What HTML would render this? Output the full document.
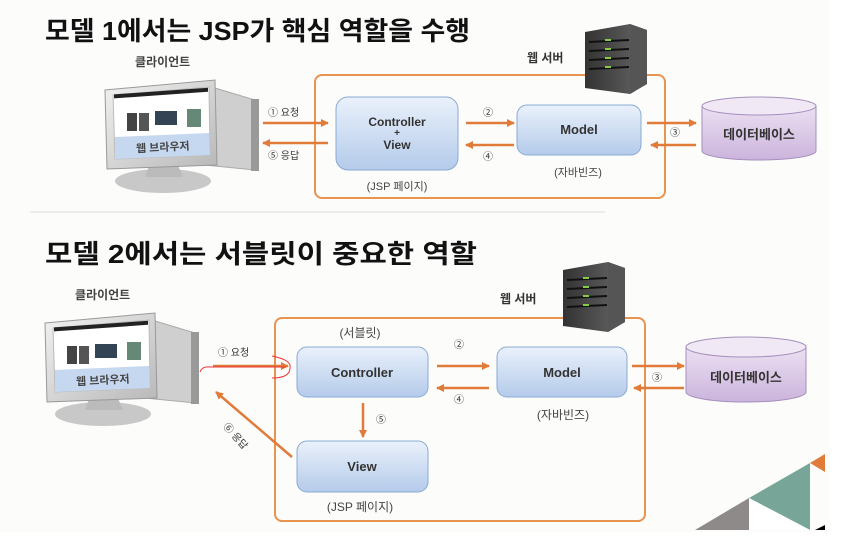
<!DOCTYPE html>
<html><head><meta charset="utf-8"><style>
body{margin:0;background:#fff}
svg{display:block}
text{font-family:"Liberation Sans","Noto Sans CJK KR",sans-serif}
</style></head><body>
<svg width="858" height="542" viewBox="0 0 858 542" xmlns="http://www.w3.org/2000/svg">
<defs>
<linearGradient id="bl" x1="0" y1="0" x2="0" y2="1"><stop offset="0" stop-color="#eaf1fb"/><stop offset="1" stop-color="#b4cbea"/></linearGradient>
<linearGradient id="pu" x1="0" y1="0" x2="0" y2="1"><stop offset="0" stop-color="#ece0f2"/><stop offset="1" stop-color="#cbb4dc"/></linearGradient>
<linearGradient id="sv" x1="0" y1="0" x2="1" y2="0"><stop offset="0" stop-color="#333"/><stop offset="1" stop-color="#666"/></linearGradient>
<linearGradient id="mon" x1="0" y1="0" x2="1" y2="1"><stop offset="0" stop-color="#f2f2f2"/><stop offset="1" stop-color="#b8b8b8"/></linearGradient>
<marker id="ah" markerWidth="8" markerHeight="8" refX="7" refY="4" orient="auto" markerUnits="userSpaceOnUse"><path d="M0,0 L8,4 L0,8 z" fill="#e07b39"/></marker>
<g id="pc">
 <path d="M100,0 L150,15 L150,85 L100,80 Z" fill="#cfcfcf" stroke="#aaa"/>
 <rect x="146" y="14" width="8" height="72" fill="#999"/>
 <ellipse cx="58" cy="96" rx="48" ry="12" fill="#c8c8c8"/>
 <path d="M45,78 L72,78 L78,92 L40,92 Z" fill="#bbb"/>
 <path d="M0,5 L110,-5 L112,80 L2,84 Z" fill="url(#mon)" stroke="#999"/>
 <path d="M8,10 L104,2 L105,70 L10,74 Z" fill="#fff" stroke="#bbb"/>
 <rect x="9" y="10" width="94" height="4" fill="#222" transform="skewY(-4)"/>
 <rect x="22" y="28" width="10" height="18" fill="#444"/><rect x="34" y="28" width="10" height="18" fill="#555"/>
 <rect x="50" y="26" width="22" height="14" fill="#345"/>
 <rect x="82" y="24" width="14" height="18" fill="#687"/>
 <path d="M10,52 L104,48 L105,70 L10,74 Z" fill="#c6d8f0"/>
 <text x="58" y="66" font-size="11" font-weight="bold" fill="#444" text-anchor="middle" transform="rotate(-3 58 66)">웹 브라우저</text>
</g>
<g id="srv">
 <path d="M0,8 L45,0 L62,6 L62,60 L45,70 L0,64 Z" fill="url(#sv)"/>
 <path d="M45,0 L62,6 L62,60 L45,70 Z" fill="#555"/>
 <g stroke="#111" stroke-width="2"><line x1="4" y1="18" x2="44" y2="16"/><line x1="4" y1="27" x2="44" y2="25"/><line x1="4" y1="36" x2="44" y2="34"/><line x1="4" y1="45" x2="44" y2="43"/></g>
 <g fill="#8c4"><rect x="20" y="15" width="6" height="2"/><rect x="20" y="24" width="6" height="2"/><rect x="20" y="33" width="6" height="2"/><rect x="20" y="42" width="6" height="2"/></g>
</g>
</defs>
<rect width="830" height="532" fill="#fcfcfb"/>

<!-- Section 1 -->
<text x="45" y="40" font-size="26" font-weight="bold" fill="#111" textLength="425" lengthAdjust="spacingAndGlyphs">모델 1에서는 JSP가 핵심 역할을 수행</text>
<text x="135" y="66" font-size="12" font-weight="bold" fill="#444">클라이언트</text>
<use href="#pc" x="105" y="85"/>
<rect x="315" y="75" width="350" height="123" rx="7" fill="none" stroke="#e8934f" stroke-width="2"/>
<use href="#srv" x="585" y="24"/>
<text x="527" y="62" font-size="12" font-weight="bold" fill="#333">웹 서버</text>
<rect x="336" y="97" width="122" height="73" rx="12" fill="url(#bl)" stroke="#8aaad4"/>
<text x="397" y="126" font-size="12" font-weight="bold" fill="#333" text-anchor="middle">Controller</text>
<text x="397" y="136" font-size="10" font-weight="bold" fill="#333" text-anchor="middle">+</text>
<text x="397" y="149" font-size="12" font-weight="bold" fill="#333" text-anchor="middle">View</text>
<text x="397" y="190" font-size="11" fill="#444" text-anchor="middle">(JSP 페이지)</text>
<rect x="517" y="105" width="124" height="50" rx="10" fill="url(#bl)" stroke="#8aaad4"/>
<text x="579" y="134" font-size="13" font-weight="bold" fill="#333" text-anchor="middle">Model</text>
<text x="578" y="176" font-size="11" fill="#444" text-anchor="middle">(자바빈즈)</text>
<g stroke="#e07b39" stroke-width="2.5" marker-end="url(#ah)">
<line x1="263" y1="123" x2="328" y2="123"/><line x1="328" y1="143" x2="263" y2="143"/>
<line x1="466" y1="123" x2="514" y2="123"/><line x1="514" y1="145" x2="466" y2="145"/>
<line x1="647" y1="123" x2="696" y2="123"/><line x1="696" y1="145" x2="651" y2="145"/>
</g>
<text x="268" y="116" font-size="10" fill="#333">① 요청</text>
<text x="268" y="159" font-size="10" fill="#333">⑤ 응답</text>
<text x="483" y="116" font-size="10" fill="#333">②</text>
<text x="483" y="160" font-size="10" fill="#333">④</text>
<text x="670" y="136" font-size="10" fill="#333">③</text>
<path d="M702,106 L702,151 A57,9 0 0 0 816,151 L816,106" fill="url(#pu)" stroke="#a58fbd"/>
<ellipse cx="759" cy="106" rx="57" ry="9" fill="#f1e8f6" stroke="#a58fbd"/>
<text x="759" y="139" font-size="13" font-weight="bold" fill="#333" text-anchor="middle">데이터베이스</text>
<line x1="30" y1="212" x2="605" y2="212" stroke="#ddd"/>

<!-- Section 2 -->
<text x="45" y="263" font-size="26" font-weight="bold" fill="#111" textLength="432" lengthAdjust="spacingAndGlyphs">모델 2에서는 서블릿이 중요한 역할</text>
<text x="75" y="299" font-size="12" font-weight="bold" fill="#444">클라이언트</text>
<use href="#pc" x="45" y="318"/>
<rect x="275" y="318" width="370" height="203" rx="7" fill="none" stroke="#e8934f" stroke-width="2"/>
<use href="#srv" x="563" y="262"/>
<text x="500" y="303" font-size="12" font-weight="bold" fill="#333">웹 서버</text>
<text x="360" y="337" font-size="12" fill="#444" text-anchor="middle">(서블릿)</text>
<rect x="297" y="347" width="131" height="50" rx="10" fill="url(#bl)" stroke="#8aaad4"/>
<text x="362" y="377" font-size="13" font-weight="bold" fill="#333" text-anchor="middle">Controller</text>
<rect x="297" y="441" width="131" height="51" rx="10" fill="url(#bl)" stroke="#8aaad4"/>
<text x="362" y="471" font-size="13" font-weight="bold" fill="#333" text-anchor="middle">View</text>
<text x="360" y="511" font-size="12" fill="#444" text-anchor="middle">(JSP 페이지)</text>
<rect x="497" y="347" width="130" height="50" rx="10" fill="url(#bl)" stroke="#8aaad4"/>
<text x="562" y="377" font-size="13" font-weight="bold" fill="#333" text-anchor="middle">Model</text>
<text x="563" y="419" font-size="12" fill="#444" text-anchor="middle">(자바빈즈)</text>
<g stroke="#e07b39" stroke-width="2.5" marker-end="url(#ah)">
<line x1="213" y1="366" x2="288" y2="366"/>
<line x1="363" y1="403" x2="363" y2="437"/>
<line x1="292" y1="457" x2="216" y2="392"/>
<line x1="437" y1="366" x2="489" y2="366"/><line x1="489" y1="388" x2="437" y2="388"/>
<line x1="632" y1="366" x2="684" y2="366"/><line x1="684" y1="388" x2="634" y2="388"/>
</g>
<path d="M200,372 Q202,366 210,367 L286,367 M272,356 Q292,360 290,368 Q290,378 272,378" fill="none" stroke="#e33" stroke-width="1"/>
<text x="218" y="356" font-size="10" fill="#333">① 요청</text>
<text x="376" y="423" font-size="10" fill="#333">⑤</text>
<text x="214" y="430" font-size="10" fill="#333" transform="rotate(48 222 438)">⑥ 응답</text>
<text x="454" y="348" font-size="10" fill="#333">②</text>
<text x="454" y="403" font-size="10" fill="#333">④</text>
<text x="652" y="381" font-size="10" fill="#333">③</text>
<path d="M686,347 L686,392 A60,10 0 0 0 806,392 L806,347" fill="url(#pu)" stroke="#a58fbd"/>
<ellipse cx="746" cy="347" rx="60" ry="10" fill="#f1e8f6" stroke="#a58fbd"/>
<text x="746" y="382" font-size="13" font-weight="bold" fill="#333" text-anchor="middle">데이터베이스</text>

<!-- decoration -->
<polygon points="810,463 825,454 825,472" fill="#e07b39"/>
<polygon points="749,498 810,463 810,530" fill="#77a699"/>
<polygon points="749,498 810,530 749,530" fill="#fff"/>
<polygon points="695,530 749,498 749,530" fill="#8e8a8a"/>
<polygon points="815,530 825,525 825,530" fill="#000"/>
</svg>
</body></html>
